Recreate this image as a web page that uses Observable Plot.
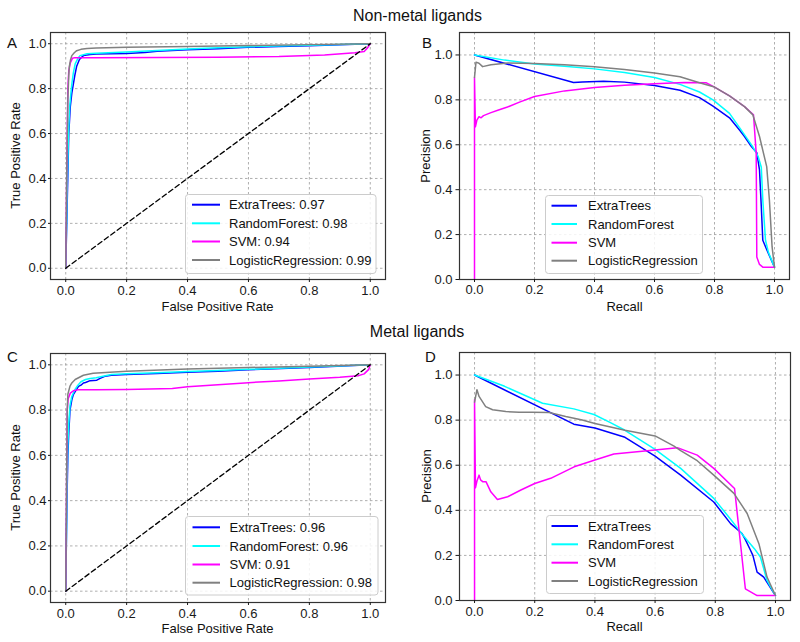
<!DOCTYPE html>
<html>
<head>
<meta charset="utf-8">
<script src="https://cdn.jsdelivr.net/npm/d3@7"></script>
<script src="https://cdn.jsdelivr.net/npm/@observablehq/plot@0.6"></script>
<style>
  html, body { margin: 0; padding: 0; background: white; }
  #root { position: relative; width: 800px; height: 642px; background: white; font-family: "Liberation Sans", Arial, sans-serif; }
  .panel { position: absolute; }
  #overlay { position: absolute; left: 0; top: 0; pointer-events: none; }
</style>
</head>
<body>
<div id="root"></div>
<script>
// ---------- data ----------
const models = ["ExtraTrees", "RandomForest", "SVM", "LogisticRegression"];
const modelColors = ["#0000ff", "#00ffff", "#ff00ff", "#808080"];
const aucNonMetal = [0.97, 0.98, 0.94, 0.99];
const aucMetal = [0.96, 0.96, 0.91, 0.98];
const axisTicks = [0, 0.2, 0.4, 0.6, 0.8, 1.0];
const chanceLine = [[0, 0], [1, 1]];

// ROC, non-metal ligands (panel A) — [FPR, TPR]
const rocA_ET = [[0,0],[0.005,0.3],[0.01,0.6],[0.015,0.72],[0.02,0.78],[0.025,0.82],[0.03,0.86],[0.036,0.9],[0.045,0.93],[0.058,0.947],[0.08,0.952],[0.1,0.954],[0.2,0.957],[0.26,0.961],[0.3,0.967],[0.4,0.973],[0.5,0.978],[0.6,0.984],[0.7,0.988],[0.8,0.991],[0.9,0.995],[1,1]];
const rocA_RF = [[0,0],[0.004,0.3],[0.009,0.6],[0.013,0.72],[0.017,0.78],[0.02,0.82],[0.025,0.87],[0.031,0.91],[0.04,0.935],[0.047,0.947],[0.07,0.955],[0.1,0.958],[0.2,0.963],[0.3,0.97],[0.4,0.977],[0.5,0.982],[0.6,0.987],[0.8,0.993],[1,1]];
const rocA_SVM = [[0,0],[0.004,0.5],[0.007,0.8],[0.01,0.88],[0.015,0.915],[0.022,0.935],[0.03,0.938],[0.1,0.938],[0.3,0.939],[0.5,0.94],[0.7,0.943],[0.85,0.95],[0.95,0.96],[0.98,0.965],[0.99,0.98],[1,1]];
const rocA_LR = [[0,0],[0.004,0.5],[0.007,0.75],[0.01,0.86],[0.012,0.9],[0.016,0.93],[0.02,0.947],[0.028,0.96],[0.036,0.969],[0.05,0.975],[0.07,0.979],[0.1,0.981],[0.2,0.984],[0.4,0.988],[0.6,0.992],[0.8,0.996],[1,1]];

// Precision-recall, non-metal ligands (panel B) — [recall, precision]
const prB_ET = [[0,1.0],[0.33,0.877],[0.36,0.88],[0.43,0.883],[0.5,0.879],[0.6,0.864],[0.685,0.843],[0.75,0.81],[0.795,0.772],[0.85,0.72],[0.884,0.665],[0.9,0.637],[0.923,0.592],[0.941,0.565],[0.95,0.488],[0.956,0.324],[0.961,0.175],[0.975,0.13],[1.0,0.055]];
const prB_RF = [[0,1.0],[0.1,0.977],[0.2,0.96],[0.3,0.95],[0.4,0.938],[0.5,0.922],[0.6,0.9],[0.685,0.869],[0.75,0.835],[0.795,0.8],[0.85,0.74],[0.884,0.675],[0.91,0.625],[0.928,0.59],[0.945,0.55],[0.956,0.5],[0.961,0.354],[0.97,0.175],[0.98,0.12],[1.0,0.055]];
const prB_SVM = [[0,0],[0,0.9],[0.003,0.68],[0.008,0.71],[0.015,0.725],[0.022,0.72],[0.03,0.73],[0.055,0.743],[0.08,0.755],[0.11,0.768],[0.15,0.79],[0.2,0.815],[0.3,0.84],[0.4,0.855],[0.5,0.865],[0.6,0.872],[0.7,0.877],[0.773,0.876],[0.8,0.857],[0.85,0.818],[0.9,0.77],[0.93,0.734],[0.939,0.563],[0.941,0.1],[0.95,0.067],[0.961,0.055],[1.0,0.055]];
const prB_LR = [[0,0.9],[0.005,0.968],[0.015,0.963],[0.027,0.948],[0.055,0.956],[0.11,0.964],[0.2,0.962],[0.3,0.956],[0.4,0.948],[0.5,0.935],[0.6,0.92],[0.685,0.903],[0.75,0.876],[0.8,0.857],[0.85,0.818],[0.9,0.77],[0.928,0.733],[0.95,0.637],[0.974,0.503],[0.983,0.354],[0.992,0.145],[1.0,0.055]];

// ROC, metal ligands (panel C)
const rocC_ET = [[0,0],[0.004,0.4],[0.007,0.6],[0.01,0.7],[0.014,0.8],[0.02,0.845],[0.025,0.869],[0.035,0.89],[0.042,0.905],[0.05,0.91],[0.058,0.92],[0.065,0.922],[0.08,0.93],[0.102,0.932],[0.113,0.94],[0.13,0.95],[0.15,0.954],[0.2,0.957],[0.3,0.962],[0.4,0.967],[0.5,0.972],[0.6,0.978],[0.8,0.988],[1,1]];
const rocC_RF = [[0,0],[0.004,0.45],[0.007,0.65],[0.01,0.74],[0.014,0.82],[0.02,0.86],[0.03,0.89],[0.04,0.91],[0.05,0.925],[0.065,0.935],[0.08,0.94],[0.1,0.943],[0.13,0.952],[0.15,0.957],[0.2,0.96],[0.3,0.965],[0.4,0.97],[0.5,0.975],[0.6,0.98],[0.8,0.99],[1,1]];
const rocC_SVM = [[0,0],[0.003,0.5],[0.005,0.8],[0.008,0.85],[0.015,0.875],[0.025,0.885],[0.04,0.89],[0.1,0.89],[0.2,0.891],[0.35,0.895],[0.4,0.903],[0.5,0.912],[0.6,0.921],[0.7,0.929],[0.8,0.937],[0.9,0.945],[0.96,0.952],[0.98,0.96],[0.995,0.98],[1,1]];
const rocC_LR = [[0,0],[0.003,0.5],[0.005,0.8],[0.007,0.87],[0.014,0.906],[0.02,0.92],[0.031,0.935],[0.058,0.954],[0.09,0.963],[0.2,0.972],[0.4,0.981],[0.6,0.988],[0.8,0.994],[1,1]];

// Precision-recall, metal ligands (panel D)
const prD_ET = [[0,1.0],[0.33,0.782],[0.4,0.765],[0.5,0.724],[0.6,0.64],[0.685,0.556],[0.795,0.437],[0.851,0.341],[0.889,0.297],[0.9,0.27],[0.917,0.223],[0.925,0.2],[0.939,0.126],[0.961,0.104],[1.0,0.022]];
const prD_RF = [[0,1.0],[0.1,0.95],[0.226,0.875],[0.33,0.85],[0.397,0.825],[0.45,0.79],[0.5,0.755],[0.6,0.67],[0.685,0.586],[0.795,0.453],[0.851,0.36],[0.88,0.31],[0.906,0.267],[0.93,0.23],[0.95,0.193],[0.972,0.089],[1.0,0.022]];
const prD_SVM = [[0,0],[0,0.89],[0.003,0.5],[0.008,0.53],[0.015,0.556],[0.02,0.535],[0.027,0.527],[0.038,0.527],[0.054,0.482],[0.076,0.448],[0.11,0.46],[0.154,0.49],[0.2,0.519],[0.253,0.542],[0.331,0.593],[0.4,0.623],[0.463,0.65],[0.6,0.668],[0.674,0.678],[0.74,0.645],[0.795,0.586],[0.864,0.497],[0.9,0.052],[0.939,0.022],[1.0,0.022]];
const prD_LR = [[0,0.88],[0.008,0.935],[0.015,0.905],[0.037,0.86],[0.06,0.846],[0.104,0.838],[0.148,0.835],[0.192,0.835],[0.248,0.834],[0.303,0.816],[0.358,0.801],[0.4,0.785],[0.5,0.755],[0.6,0.73],[0.663,0.685],[0.685,0.665],[0.74,0.62],[0.795,0.556],[0.862,0.475],[0.906,0.386],[0.945,0.252],[0.972,0.104],[1.0,0.022]];

// ---------- helpers ----------
const FONT = "'Liberation Sans', Arial, sans-serif";
function toRows(series) {
  return series.flatMap((pts, i) => pts.map(([x, y]) => ({model: models[i], x, y})));
}

function panel({series, diag, yDomain, width, height, ml, mr, mt, mb, yTickSize, yTickPad, xTickPad}) {
  return Plot.plot({
    width, height,
    marginLeft: ml, marginRight: mr, marginTop: mt, marginBottom: mb,
    style: {fontFamily: FONT, fontSize: "13px", color: "#1a1a1a", background: "transparent", overflow: "visible"},
    x: {domain: [-0.05, 1.05]},
    y: {domain: yDomain},
    color: {domain: models, range: modelColors},
    marks: [
      Plot.gridX(axisTicks, {stroke: "#9a9a9a", strokeOpacity: 1, strokeWidth: 0.8, strokeDasharray: "2.5,2.5"}),
      Plot.gridY(axisTicks, {stroke: "#9a9a9a", strokeOpacity: 1, strokeWidth: 0.8, strokeDasharray: "2.5,2.5"}),
      Plot.line(toRows(series), {x: "x", y: "y", z: "model", stroke: "model", strokeWidth: 1.5}),
      diag ? Plot.line(chanceLine, {x: d => d[0], y: d => d[1], stroke: "black", strokeWidth: 1.3, strokeDasharray: "5,3"}) : null,
      Plot.frame({stroke: "#333", strokeWidth: 1.2}),
      Plot.axisX(axisTicks, {tickSize: 3, tickPadding: xTickPad, tickFormat: d3.format(".1f"), label: null, fontSize: 13}),
      Plot.axisY(axisTicks, {tickSize: yTickSize, tickPadding: yTickPad, tickFormat: d3.format(".1f"), label: null, fontSize: 13})
    ]
  });
}

const root = document.getElementById("root");
function place(node, left, top) {
  const d = document.createElement("div");
  d.className = "panel";
  d.style.left = left + "px";
  d.style.top = top + "px";
  d.appendChild(node);
  root.appendChild(d);
}

place(panel({series: [rocA_ET, rocA_RF, rocA_SVM, rocA_LR], diag: true, yDomain: [-0.05, 1.05],
  width: 400, height: 318, ml: 50, mr: 15, mt: 32, mb: 39, yTickSize: 2, yTickPad: 2, xTickPad: 3.5}), 0, 0);
place(panel({series: [prB_ET, prB_RF, prB_SVM, prB_LR], diag: false, yDomain: [0, 1.1],
  width: 400, height: 318, ml: 59, mr: 11, mt: 32, mb: 39, yTickSize: 3.5, yTickPad: 3.5, xTickPad: 2.5}), 400, 0);
place(panel({series: [rocC_ET, rocC_RF, rocC_SVM, rocC_LR], diag: true, yDomain: [-0.05, 1.05],
  width: 400, height: 322, ml: 50, mr: 15, mt: 33, mb: 40, yTickSize: 2, yTickPad: 2, xTickPad: 3}), 0, 320);
place(panel({series: [prD_ET, prD_RF, prD_SVM, prD_LR], diag: false, yDomain: [0, 1.1],
  width: 400, height: 322, ml: 59, mr: 10, mt: 32, mb: 42, yTickSize: 3.5, yTickPad: 3.5, xTickPad: 3.5}), 400, 320);

// ---------- overlay texts & legends ----------
const ov = d3.select(root).append("svg").attr("id", "overlay")
  .attr("width", 800).attr("height", 642)
  .style("font-family", FONT);

function txt(x, y, s, size, anchor, rotate) {
  const t = ov.append("text").attr("font-size", size).attr("fill", "#111")
    .attr("text-anchor", anchor || "start").text(s);
  if (rotate) t.attr("transform", `translate(${x},${y}) rotate(-90)`);
  else t.attr("x", x).attr("y", y);
}

txt(417.5, 20.5, "Non-metal ligands", 16, "middle");
txt(417, 337, "Metal ligands", 16, "middle");
txt(7, 47.5, "A", 15);
txt(422, 48, "B", 15);
txt(7, 362, "C", 15);
txt(425, 362, "D", 15);

txt(217.5, 311, "False Positive Rate", 13, "middle");
txt(624.5, 311, "Recall", 13, "middle");
txt(217.5, 633, "False Positive Rate", 13, "middle");
txt(624.5, 631, "Recall", 13, "middle");
txt(19.5, 155.5, "True Positive Rate", 13, "middle", true);
txt(430, 156, "Precision", 13, "middle", true);
txt(19.5, 477.5, "True Positive Rate", 13, "middle", true);
txt(430.5, 476, "Precision", 13, "middle", true);

function legend(bx, by, bw, bh, rows, lx0, lx1, tx, labels) {
  ov.append("rect").attr("x", bx).attr("y", by).attr("width", bw).attr("height", bh)
    .attr("rx", 3).attr("fill", "white").attr("fill-opacity", 0.85)
    .attr("stroke", "#cccccc").attr("stroke-width", 1);
  labels.forEach((lab, i) => {
    ov.append("line").attr("x1", lx0).attr("x2", lx1).attr("y1", rows[i]).attr("y2", rows[i])
      .attr("stroke", modelColors[i]).attr("stroke-width", 2);
    ov.append("text").attr("x", tx).attr("y", rows[i] + 4.6).attr("font-size", 13)
      .attr("fill", "#111").text(lab);
  });
}
legend(185.5, 194.5, 190.5, 79, [204.7, 223.3, 241.5, 260], 192, 220, 229,
  models.map((m, i) => `${m}: ${aucNonMetal[i].toFixed(2)}`));
legend(545.5, 195.5, 157, 78, [205.7, 224, 242.7, 260.7], 551.5, 577, 588,
  models);
legend(185.5, 516.5, 192.5, 78.5, [527.3, 546, 564.5, 582.7], 192.5, 220, 229.5,
  models.map((m, i) => `${m}: ${aucMetal[i].toFixed(2)}`));
legend(546.5, 515.5, 157, 78, [526, 544.3, 562.7, 581], 551.5, 578, 588,
  models);
</script>
</body>
</html>
